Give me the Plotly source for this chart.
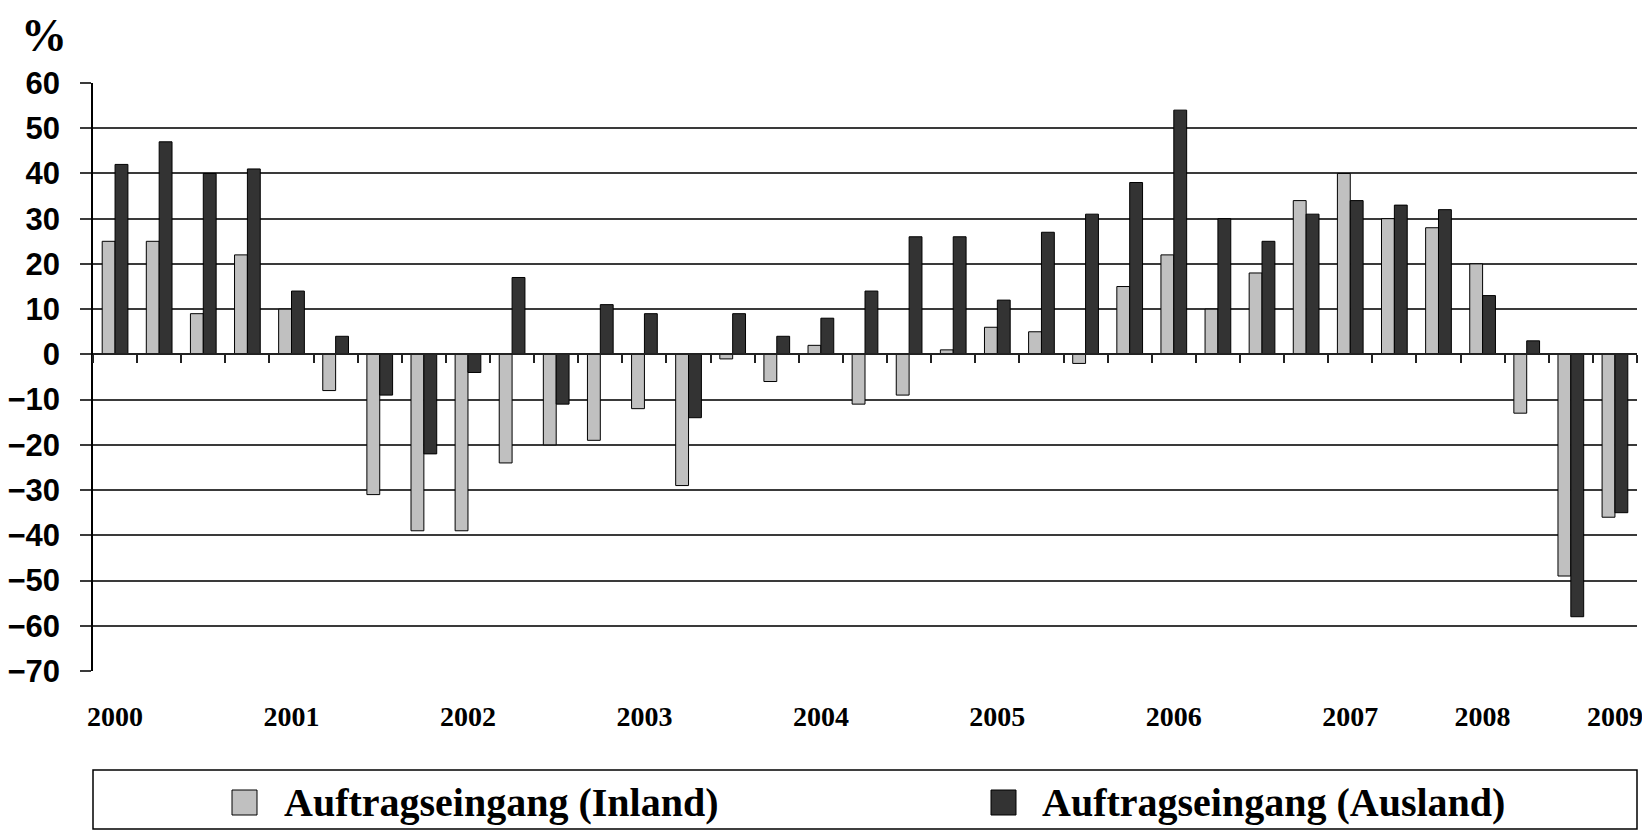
import plotly.graph_objects as go

# quarterly change in order intake, %
quarters = [f"{y} Q{q}" for y in range(2000, 2009) for q in (1, 2, 3, 4)][:35]
inland = [25, 25, 9, 22, 10, -8, -31, -39, -39, -24, -20, -19, -12, -29, -1, -6, 2, -11,
          -9, 1, 6, 5, -2, 15, 22, 10, 18, 34, 40, 30, 28, 20, -13, -49, -36]
ausland = [42, 47, 40, 41, 14, 4, -9, -22, -4, 17, -11, 11, 9, -14, 9, 4, 8, 14,
           26, 26, 12, 27, 31, 38, 54, 30, 25, 31, 34, 33, 32, 13, 3, -58, -35]
year_idx = [0, 4, 8, 12, 16, 20, 24, 28, 31, 34]
year_labels = ["2000", "2001", "2002", "2003", "2004", "2005", "2006", "2007", "2008", "2009"]
series_names = ["Auftragseingang (Inland)", "Auftragseingang (Ausland)"]
colors = ["#c0c0c0", "#333333"]

# page body has an 8px margin, so the figure is drawn 8px smaller and offset
OFF = 8
W, H = 1650 - OFF, 831 - OFF
L, R, T, B = 93 - OFF, 13, 83 - OFF, 160
YMIN, YMAX = -70, 60


def px_x(p):
    # window pixel -> paper x
    return (p - OFF - L) / (W - L - R)


def px_y(p):
    # window pixel -> paper y
    return (H - B - (p - OFF)) / (H - T - B)


fig = go.Figure()
for name, vals, col in zip(series_names, [inland, ausland], colors):
    fig.add_trace(go.Bar(x=quarters, y=vals, name=name, marker_color=col,
                         marker_line=dict(color="black", width=1), showlegend=False))

# helper trace carrying the bottom label axis
fig.add_trace(go.Scatter(x=quarters, y=[None] * len(quarters), xaxis="x2",
                         showlegend=False, hoverinfo="skip"))

fig.update_layout(
    width=W, height=H,
    margin=dict(l=L, r=R, t=T, b=B, autoexpand=False),
    plot_bgcolor="white", paper_bgcolor="white",
    barmode="group", bargap=0.417, bargroupgap=0,
    xaxis=dict(type="category", anchor="free", position=(0 - YMIN) / (YMAX - YMIN),
               showline=True, linecolor="#222", linewidth=1.5,
               ticks="outside", tickson="boundaries", ticklen=8, tickwidth=1.5,
               tickcolor="#222", showticklabels=False, showgrid=False,
               range=[-0.5, len(quarters) - 0.5]),
    xaxis2=dict(type="category", overlaying="x", matches="x", anchor="y", side="bottom",
                showline=False, ticks="", showgrid=False,
                tickmode="array", tickvals=[quarters[i] for i in year_idx], ticktext=year_labels,
                tickfont=dict(family="Liberation Serif", size=28, color="black", weight="bold"),
                ticklabelstandoff=26),
    yaxis=dict(range=[YMIN, YMAX], dtick=10, tick0=0, showgrid=True, gridcolor="#3a3a3a",
               gridwidth=1.5, zeroline=False, showline=True, linecolor="black", linewidth=1.5,
               ticks="outside", ticklen=11, tickwidth=1.5, tickcolor="#3a3a3a",
               tickfont=dict(family="Liberation Sans", size=31, color="black", weight="bold"),
               ticklabelstandoff=14),
)

fig.add_annotation(text="%", xref="paper", yref="paper", x=px_x(44), y=px_y(OFF + 1),
                   showarrow=False, xanchor="center", yanchor="top", borderpad=0,
                   font=dict(family="Liberation Serif", size=46, color="black", weight="bold"))

# legend drawn by hand: frame, swatches and names
fig.add_shape(type="rect", xref="paper", yref="paper",
              x0=px_x(93), x1=px_x(1637), y0=px_y(770), y1=px_y(829),
              line=dict(color="black", width=1.5), fillcolor="white")
for sx, tx, name, col in zip([232, 991], [282, 1040], series_names, colors):
    fig.add_shape(type="rect", xref="paper", yref="paper",
                  x0=px_x(sx), x1=px_x(sx + 25), y0=px_y(790), y1=px_y(815),
                  line=dict(color="black", width=1), fillcolor=col)
    fig.add_annotation(text=name, xref="paper", yref="paper", x=px_x(tx), y=px_y(802),
                       showarrow=False, xanchor="left", yanchor="middle",
                       font=dict(family="Liberation Serif", size=40, color="black", weight="bold"))

fig.write_html("out.html")
